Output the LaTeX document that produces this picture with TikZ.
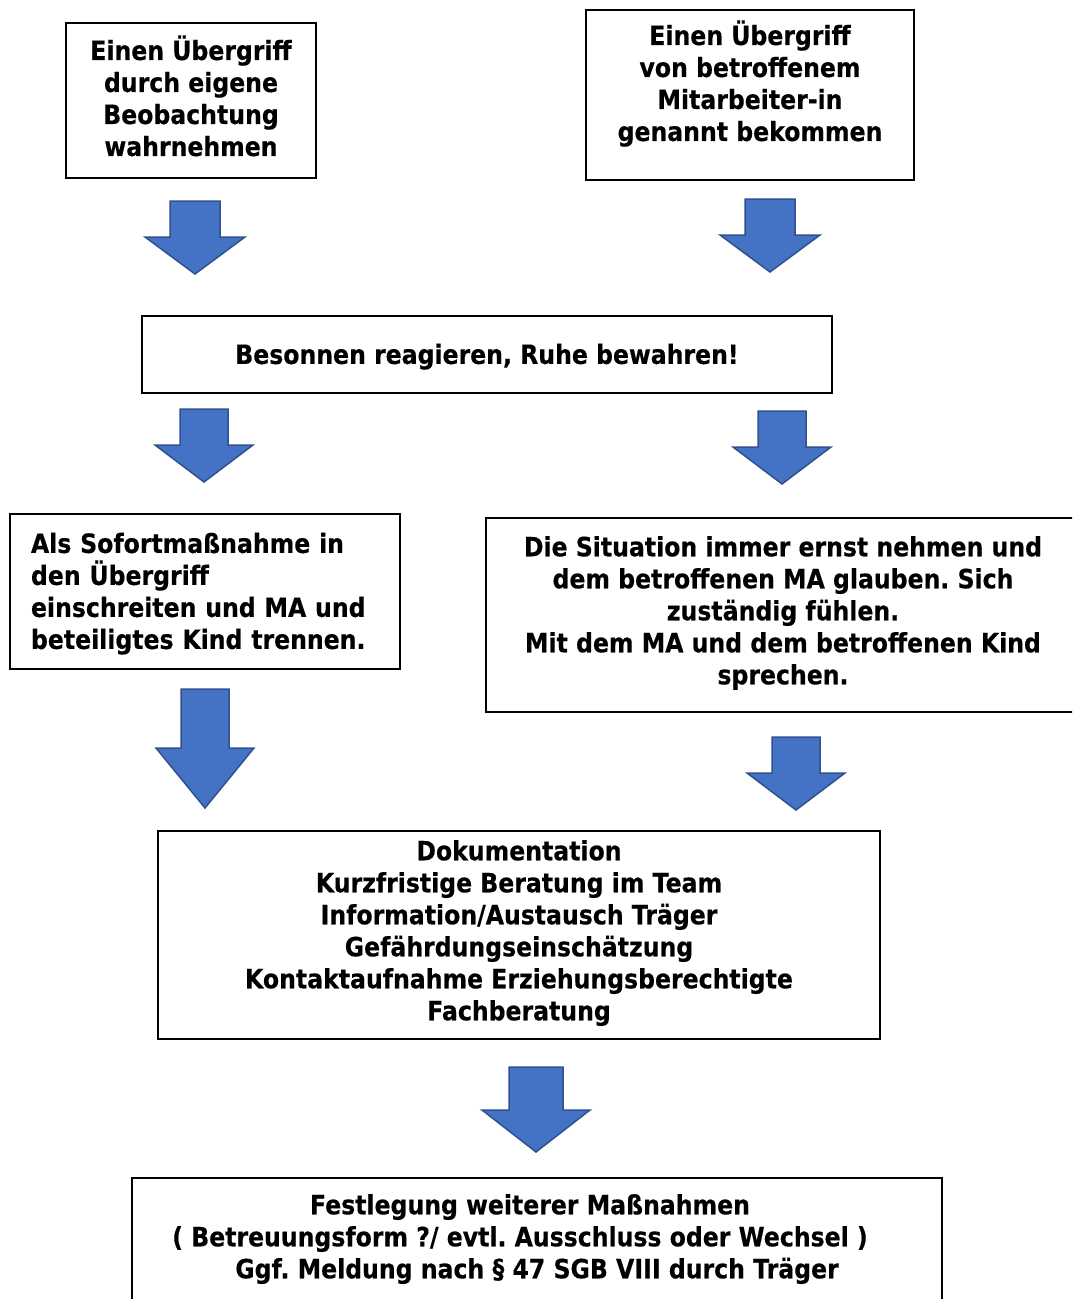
\documentclass[tikz,border=0pt]{standalone}
\usepackage{fontspec}
\setmainfont{DejaVu Sans}[FakeStretch=0.89, BoldFeatures={FakeBold=0.4}]
\usetikzlibrary{calc}

\definecolor{pfeilblau}{HTML}{4472C4}
\definecolor{pfeilrand}{HTML}{2F528F}

\tikzset{
	kasten/.style={draw, line width=2.5pt, inner sep=0pt, align=center,
		font=\bfseries\fontsize{26.5}{32}\selectfont\frenchspacing,
		execute at begin node=\rule{0pt}{28.4pt}, execute at end node=\strut},
	blockpfeil/.style={fill=pfeilblau, draw=pfeilrand, line width=1.5pt, line join=miter}
}

% #1 obere mitte, #2 halbe schaftbreite, #3 halbe kopfbreite, #4 schaftlaenge, #5 gesamtlaenge
\newcommand{\blockpfeil}[5]{%
	\draw[blockpfeil] ($(#1)+(-#2,0)$) -- ($(#1)+(#2,0)$) -- ($(#1)+(#2,#4)$) -- ($(#1)+(#3,#4)$)
		-- ($(#1)+(0,#5)$) -- ($(#1)+(-#3,#4)$) -- ($(#1)+(-#2,#4)$) -- cycle;
}

\begin{document}
\begin{tikzpicture}[x=1pt, y=-1pt]
		\clip (0,0) rectangle (1072,1299);

		\coordinate (p1) at (195, 201);
		\coordinate (p2) at (770, 199);
		\coordinate (p3) at (204, 409);
		\coordinate (p4) at (782, 411);
		\coordinate (p5) at (205, 689);
		\coordinate (p6) at (796, 737);
		\coordinate (p7) at (536, 1067);

		% kaesten
		\node[kasten, minimum width=250pt, minimum height=155pt] (beobachtung) at (191, 100.5)
			{Einen Übergriff\\durch eigene\\Beobachtung\\wahrnehmen};
		\node[kasten, minimum width=328pt, minimum height=170pt] (genannt) at (750, 95)
			{Einen Übergriff\\von betroffenem\\Mitarbeiter-in\\genannt bekommen\rule[-28.6pt]{0pt}{0pt}};
		\node[kasten, minimum width=690pt, minimum height=77pt] (ruhe) at (487, 354.5)
			{Besonnen reagieren, Ruhe bewahren!};
		\node[kasten, minimum width=390pt, minimum height=155pt, text width=348pt, align=left] (sofort) at (205, 591.5)
			{Als Sofortmaßnahme in\\den Übergriff\\einschreiten und MA und\\beteiligtes Kind trennen.};
		\node[kasten, minimum width=594pt, minimum height=194pt] (ernst) at (783, 615)
			{Die Situation immer ernst nehmen und\\dem betroffenen MA glauben. Sich\\zuständig fühlen.\\Mit dem MA und dem betroffenen Kind\\sprechen.};
		\node[kasten, minimum width=722pt, minimum height=208pt] (doku) at (519, 935)
			{Dokumentation\\Kurzfristige Beratung im Team\\Information/Austausch Träger\\Gefährdungseinschätzung\\Kontaktaufnahme Erziehungsberechtigte\\Fachberatung};
		\node[kasten, minimum width=810pt, minimum height=126pt] (massnahmen) at (537, 1241)
			{Festlegung weiterer Maßnahmen\kern14pt\\( Betreuungsform ?/ evtl. Ausschluss oder Wechsel )\kern34pt\\Ggf. Meldung nach § 47 SGB VIII durch Träger};

		% pfeile
		\blockpfeil{p1}{25}{50}{36}{73}
		\blockpfeil{p2}{25}{50}{36}{73}
		\blockpfeil{p3}{24}{49}{36}{73}
		\blockpfeil{p4}{24}{49}{36}{73}
		\blockpfeil{p5}{24}{49}{59}{119}
		\blockpfeil{p6}{24}{49}{36}{73}
		\blockpfeil{p7}{27}{54}{43}{85}
\end{tikzpicture}
\end{document}
